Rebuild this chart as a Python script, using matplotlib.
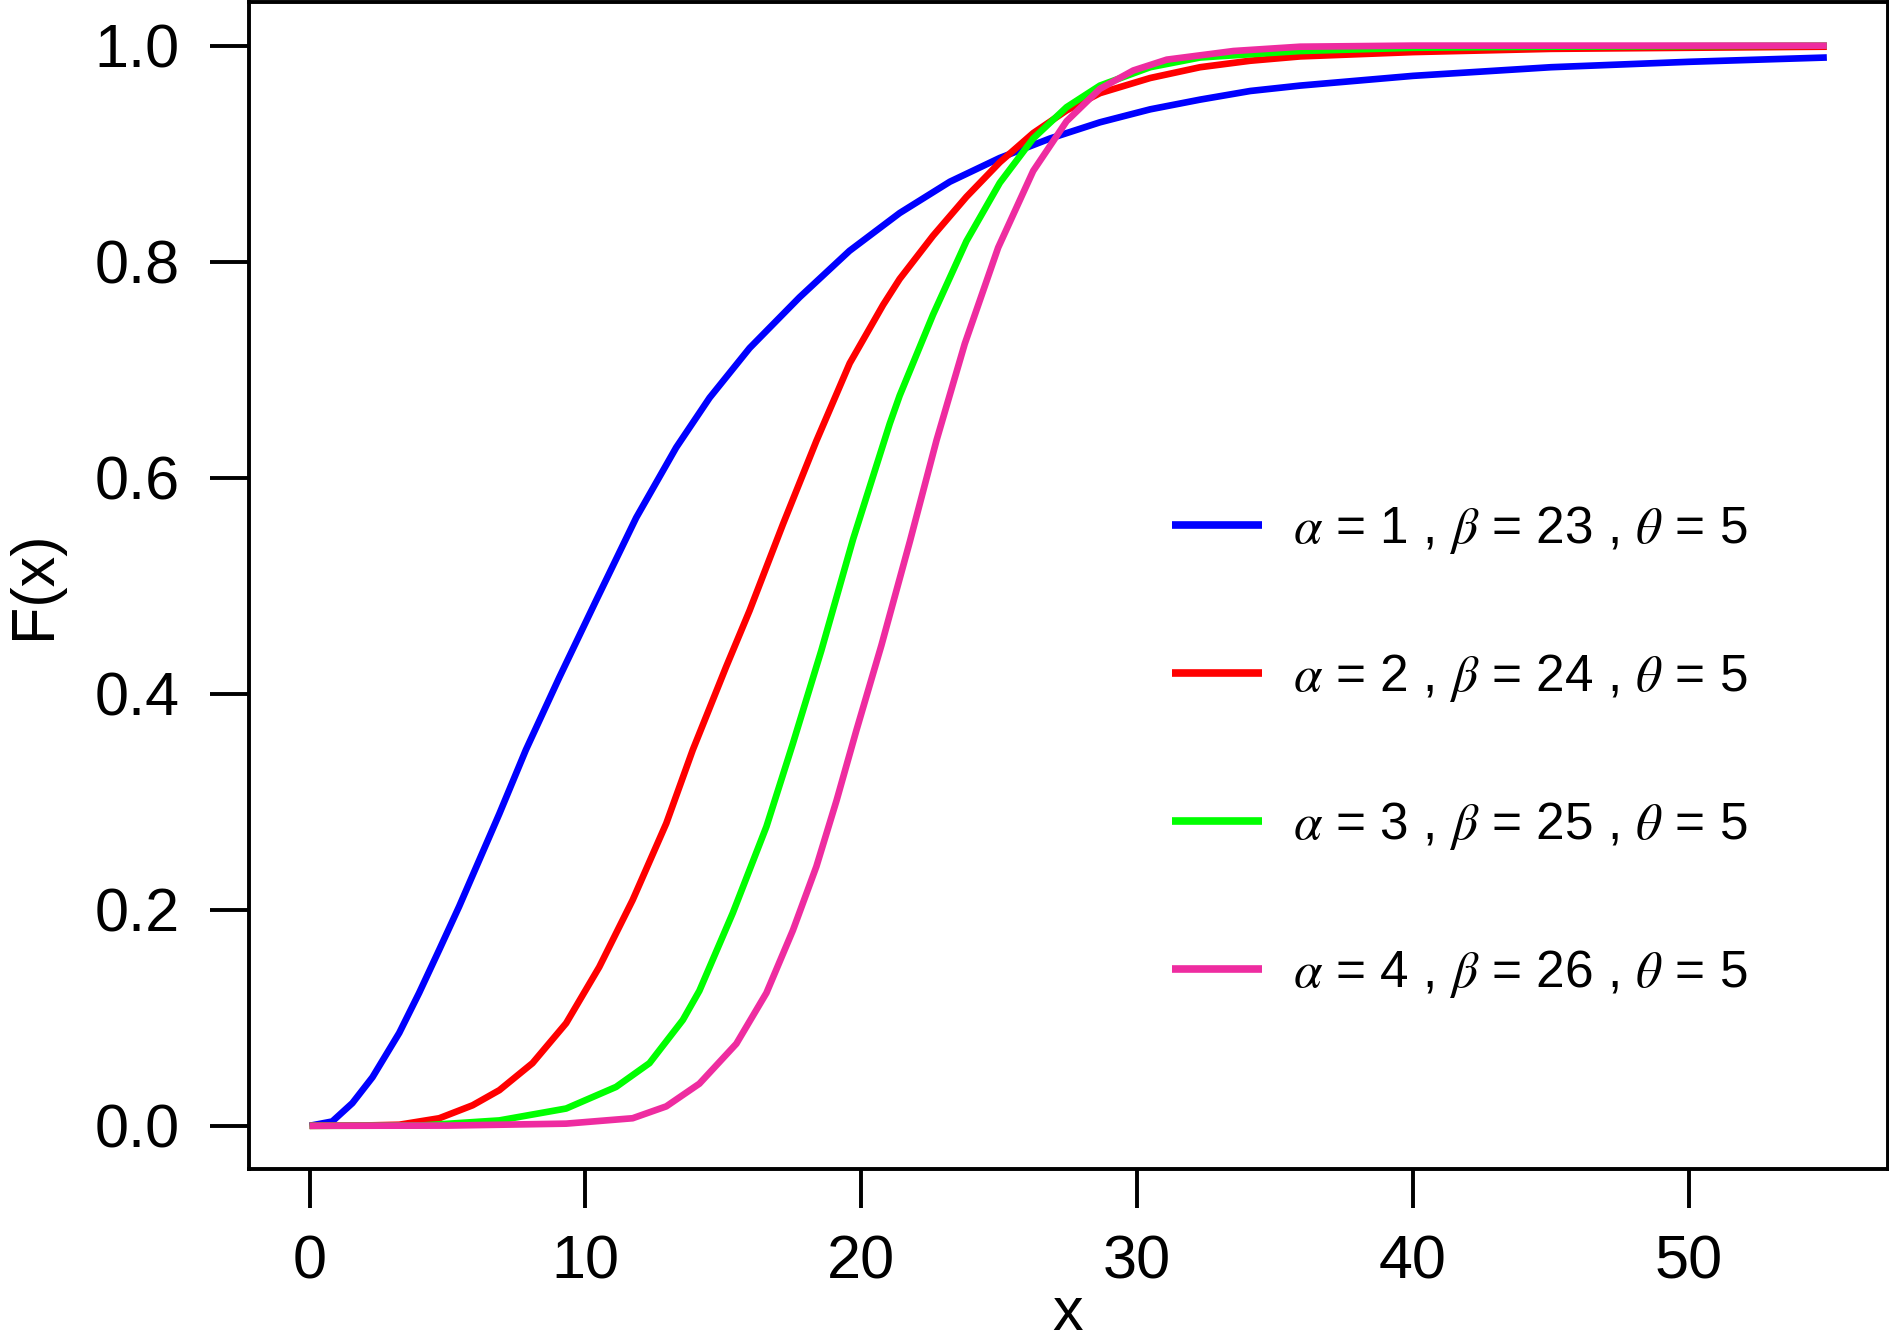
import matplotlib
matplotlib.use("Agg")
import matplotlib.pyplot as plt

plt.rcParams['font.family'] = ['Liberation Sans', 'DejaVu Sans']
plt.rcParams['mathtext.fontset'] = 'stix'

# ---- data ----
blue_x = [0, 0.82, 1.55, 2.28, 3.25, 3.97, 4.70, 5.42, 6.15, 6.88, 7.84, 9.05, 10.38,
          11.84, 13.29, 14.5, 15.95, 17.76, 19.57, 21.39, 23.21, 25.02, 26.84, 28.65,
          30.47, 32.28, 34.10, 35.91, 40, 45, 50, 55]
blue_y = [0, 0.004, 0.021, 0.045, 0.086, 0.123, 0.163, 0.203, 0.246, 0.289, 0.348, 0.415,
          0.486, 0.563, 0.628, 0.674, 0.720, 0.767, 0.810, 0.845, 0.874, 0.896, 0.914,
          0.929, 0.941, 0.950, 0.958, 0.963, 0.972, 0.980, 0.985, 0.989]

red_x = [0, 2, 3.25, 4.70, 5.91, 6.88, 8.08, 9.30, 10.50, 11.71, 12.93, 13.89, 15.10,
         15.95, 17.16, 18.37, 19.58, 20.79, 21.39, 22.60, 23.81, 25.02, 26.23, 27.44,
         28.65, 30.47, 32.28, 34.10, 35.91, 40, 45, 50, 55]
red_y = [0, 0.0003, 0.001, 0.007, 0.019, 0.033, 0.058, 0.095, 0.147, 0.209, 0.280, 0.348,
         0.425, 0.477, 0.557, 0.634, 0.706, 0.760, 0.784, 0.824, 0.860, 0.892, 0.919,
         0.940, 0.956, 0.970, 0.980, 0.986, 0.990, 0.994, 0.997, 0.998, 0.999]

green_x = [0, 4, 6.88, 9.30, 11.11, 12.32, 13.53, 14.13, 15.34, 16.56, 17.52, 18.55,
           19.70, 21.03, 21.39, 22.60, 23.81, 25.02, 26.23, 27.44, 28.65, 30.47, 32.28,
           35.91, 40, 45, 55]
green_y = [0, 0.0002, 0.005, 0.016, 0.036, 0.058, 0.098, 0.125, 0.197, 0.277, 0.354,
           0.440, 0.543, 0.650, 0.676, 0.751, 0.819, 0.873, 0.914, 0.943, 0.963, 0.980,
           0.989, 0.995, 0.998, 0.999, 1.0]

pink_x = [0, 5, 9.3, 11.71, 12.93, 14.13, 15.47, 16.56, 17.52, 18.37, 19.10, 19.82,
          20.73, 21.76, 22.73, 23.75, 24.96, 26.23, 27.44, 28.65, 29.86, 31.07, 33.49,
          35.91, 40, 55]
pink_y = [0, 0.0002, 0.002, 0.007, 0.018, 0.039, 0.076, 0.123, 0.181, 0.240, 0.301,
          0.366, 0.445, 0.541, 0.635, 0.724, 0.813, 0.884, 0.930, 0.960, 0.977, 0.987,
          0.995, 0.999, 1.0, 1.0]

labels = [r'$\alpha$ = 1 , $\beta$ = 23 , $\theta$ = 5',
          r'$\alpha$ = 2 , $\beta$ = 24 , $\theta$ = 5',
          r'$\alpha$ = 3 , $\beta$ = 25 , $\theta$ = 5',
          r'$\alpha$ = 4 , $\beta$ = 26 , $\theta$ = 5']
colors = ['#0000FF', '#FF0000', '#00FF00', '#EE2CA0']

x_ticks = [0, 10, 20, 30, 40, 50]
y_ticks = [0.0, 0.2, 0.4, 0.6, 0.8, 1.0]
y_tick_labels = ['0.0', '0.2', '0.4', '0.6', '0.8', '1.0']

# ---- figure ----
fig = plt.figure(figsize=(18.9, 13.38), dpi=100)
ax = fig.add_axes([0.1317, 0.1263, 0.8670, 0.8719])

series = [(blue_x, blue_y), (red_x, red_y), (green_x, green_y), (pink_x, pink_y)]
for (xs, ys), c, lab in zip(series, colors, labels):
    ax.plot(xs, ys, color=c, lw=4.8, label=lab, solid_joinstyle='round',
            solid_capstyle='butt')

ax.set_xlim(-2.2, 57.2)
ax.set_ylim(-0.04, 1.04)
ax.set_xticks(x_ticks)
ax.set_yticks(y_ticks)
ax.set_yticklabels(y_tick_labels)
ax.tick_params(axis='both', direction='out', length=28, width=2.8, labelsize=44)
ax.tick_params(axis='x', pad=19)
ax.tick_params(axis='y', pad=22)
for s in ax.spines.values():
    s.set_linewidth(2.8)

fig.text(0.5651, 1 - 1330 / 1338, 'x', fontsize=44, ha='center', va='baseline')
fig.text(0.018, 0.5628, 'F(x)', fontsize=44, ha='center', va='center', rotation=90)

leg = ax.legend(loc='center left', bbox_to_anchor=(0.5633, 0.3576), frameon=False,
                fontsize=37, handlelength=1.75, handletextpad=0.6, labelspacing=1.87,
                borderpad=0, borderaxespad=0)
for h in leg.get_lines():
    h.set_linewidth(5.5)

fig.savefig('out.png', dpi=100)
